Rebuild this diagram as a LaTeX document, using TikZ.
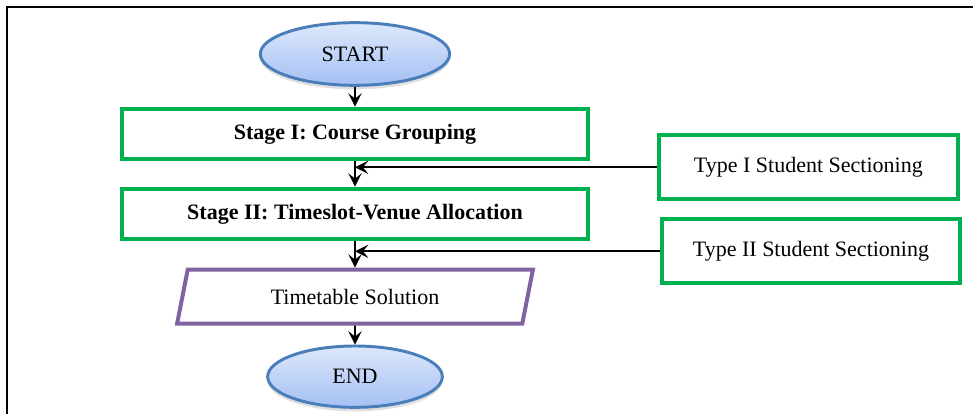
\documentclass[tikz,border=0pt]{standalone}
\usepackage{fontspec}
\setmainfont{Liberation Serif}
\usetikzlibrary{arrows.meta,shapes.geometric,shadows}
\definecolor{ovaltop}{HTML}{DDE8FB}
\definecolor{ovalbot}{HTML}{A4C0F4}
\definecolor{ovalline}{HTML}{4A7EBB}
\definecolor{stagegreen}{HTML}{00B050}
\definecolor{outpurple}{HTML}{8064A2}
\tikzset{
  oval/.style={ellipse, draw=ovalline, line width=2.2pt, top color=ovaltop,
    bottom color=ovalbot, inner sep=0pt,
    drop shadow={shadow xshift=0pt, shadow yshift=-3pt, opacity=0.25}},
  stagebox/.style={rectangle, draw=stagegreen, line width=3pt, minimum width=350pt,
    minimum height=38pt, font=\fontsize{16.5}{19}\selectfont\bfseries},
  sidebox/.style={rectangle, draw=stagegreen, line width=3pt, minimum width=224pt,
    minimum height=48pt},
  outbox/.style={trapezium, trapezium left angle=77, trapezium right angle=103,
    trapezium stretches=true, draw=outpurple, line width=3pt, minimum width=267pt,
    minimum height=40.5pt},
  flow/.style={line width=1.4pt, -{Stealth[length=10pt,width=10pt,inset=4pt]}}
}
\begin{document}
\begin{tikzpicture}[x=0.75pt, y=0.75pt, node distance=60pt,
    every node/.style={font=\fontsize{16.5}{19}\selectfont}]
      \useasboundingbox (-355,54) rectangle (618,-360);
      \draw[line width=2.2pt, line join=miter] (618,47) -- (-348,47) -- (-348,-360);
      \node[oval, minimum width=142pt, minimum height=47pt] (f0){START};
      \node[stagebox, below of=f0](f1){Stage I: Course Grouping};
      \node[stagebox, below of=f1](f2){Stage II: Timeslot-Venue Allocation};
      \node[outbox, below of=f2, node distance=62pt](f3){Timetable Solution};
      \node[oval, below of=f3, minimum width=131pt, minimum height=46pt](f4){END};
      \node[sidebox, right of=f1, node distance=340pt, yshift=-25pt](t1){Type I Student Sectioning};
      \node[sidebox, right of=f2, node distance=342pt, yshift=-28pt](t2){Type II Student Sectioning};
      \path[flow] (f0) edge (f1);
      \path[flow] (f1) edge (f2);
      \path[flow] (f2) edge (f3);
      \path[flow] (f3) edge (f4);
      \path[flow] (t1) edge (t1 -| f1);
      \path[flow] (t2) edge (t2 -| f2);
    \end{tikzpicture}
\end{document}
